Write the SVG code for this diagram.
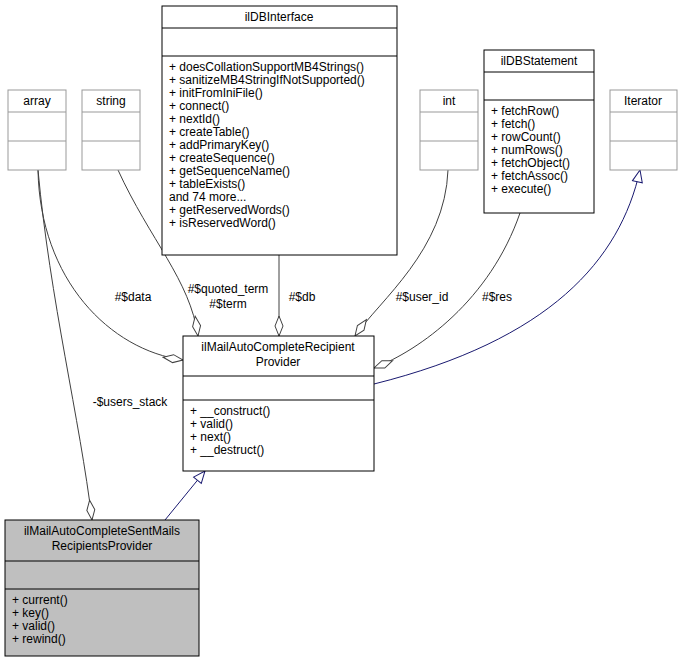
<svg xmlns="http://www.w3.org/2000/svg" width="687" height="663" viewBox="0 0 687 663">
<style>
text{font-family:"Liberation Sans",Arial,sans-serif;font-size:12px;fill:#000}
.c{text-anchor:middle}
.b{fill:#fff;stroke:#000;stroke-width:1}
.g{fill:#fff;stroke:#999;stroke-width:1}
.l{stroke:#000}
.lg{stroke:#999}
.e{fill:none;stroke:#404040;stroke-width:1}
.n{fill:none;stroke:#191970;stroke-width:1}
</style>
<defs>
<marker id="d" viewBox="0 0 22 10" refX="21" refY="5" markerWidth="22" markerHeight="10" orient="auto" markerUnits="userSpaceOnUse">
<path d="M1,5 L11,1 L21,5 L11,9 Z" fill="#fff" stroke="#404040"/>
</marker>
<marker id="t" viewBox="0 0 14 12" refX="13" refY="6" markerWidth="14" markerHeight="12" orient="auto" markerUnits="userSpaceOnUse">
<path d="M1,1 L13,6 L1,11 Z" fill="#fff" stroke="#191970"/>
</marker>
</defs>
<g id="connectors">
<path class="e" d="M38,170 C50,300 80,420 92,520" marker-end="url(#d)"/>
<path class="e" d="M38,170 C40,280 110,350 183,360" marker-end="url(#d)"/>
<path class="e" d="M118,170 C150,240 190,280 198,336" marker-end="url(#d)"/>
<path class="e" d="M279,255 L279,336" marker-end="url(#d)"/>
<path class="e" d="M448,170 C445,250 380,300 355,336" marker-end="url(#d)"/>
<path class="e" d="M520,213 C490,300 420,350 374,368" marker-end="url(#d)"/>
<path class="n" d="M374,384 C550,340 620,260 640,170" marker-end="url(#t)"/>
<path class="n" d="M165,520 L205,471" marker-end="url(#t)"/>
<text x="130" y="406" class="c">-$users_stack</text>
<text x="133" y="301" class="c">#$data</text>
<text x="228" y="293" class="c">#$quoted_term</text>
<text x="228" y="308" class="c">#$term</text>
<text x="302" y="301" class="c">#$db</text>
<text x="422" y="301" class="c">#$user_id</text>
<text x="497" y="301" class="c">#$res</text>
</g>
<g id="array"><rect class="g" x="8" y="90" width="58" height="80"/><path class="lg" d="M8,112H66M8,141H66"/><text x="37" y="105" class="c">array</text></g>
<g id="string"><rect class="g" x="82" y="90" width="58" height="80"/><path class="lg" d="M82,112H140M82,141H140"/><text x="111" y="105" class="c">string</text></g>
<g id="int"><rect class="g" x="420" y="90" width="58" height="80"/><path class="lg" d="M420,112H478M420,141H478"/><text x="449" y="105" class="c">int</text></g>
<g id="Iterator"><rect class="g" x="610" y="90" width="67" height="80"/><path class="lg" d="M610,112H677M610,141H677"/><text x="643" y="105" class="c">Iterator</text></g>
<g id="ilDBInterface"><rect class="b" x="162" y="6" width="235" height="249"/><path class="l" d="M162,28H397M162,56H397"/>
<text x="279" y="21" class="c">ilDBInterface</text>
<text x="169" y="71">+ doesCollationSupportMB4Strings()</text>
<text x="169" y="84">+ sanitizeMB4StringIfNotSupported()</text>
<text x="169" y="97">+ initFromIniFile()</text>
<text x="169" y="110">+ connect()</text>
<text x="169" y="123">+ nextId()</text>
<text x="169" y="136">+ createTable()</text>
<text x="169" y="149">+ addPrimaryKey()</text>
<text x="169" y="162">+ createSequence()</text>
<text x="169" y="175">+ getSequenceName()</text>
<text x="169" y="188">+ tableExists()</text>
<text x="169" y="201">and 74 more...</text>
<text x="169" y="214">+ getReservedWords()</text>
<text x="169" y="227">+ isReservedWord()</text>
</g>
<g id="ilDBStatement"><rect class="b" x="484" y="50" width="110" height="163"/><path class="l" d="M484,72H594M484,100H594"/>
<text x="539" y="65" class="c">ilDBStatement</text>
<text x="491" y="115">+ fetchRow()</text>
<text x="491" y="128">+ fetch()</text>
<text x="491" y="141">+ rowCount()</text>
<text x="491" y="154">+ numRows()</text>
<text x="491" y="167">+ fetchObject()</text>
<text x="491" y="180">+ fetchAssoc()</text>
<text x="491" y="193">+ execute()</text>
</g>
<g id="ilMailAutoCompleteRecipientProvider"><rect class="b" x="183" y="336" width="191" height="135"/><path class="l" d="M183,376H374M183,400H374"/>
<text x="278" y="351" class="c">ilMailAutoCompleteRecipient</text>
<text x="278" y="366" class="c">Provider</text>
<text x="190" y="415">+ __construct()</text>
<text x="190" y="428">+ valid()</text>
<text x="190" y="441">+ next()</text>
<text x="190" y="454">+ __destruct()</text>
</g>
<g id="ilMailAutoCompleteSentMailsRecipientsProvider"><rect x="5" y="520" width="194" height="136" fill="#bfbfbf" stroke="#000"/><path class="l" d="M5,561H199M5,589H199"/>
<text x="102" y="535" class="c">ilMailAutoCompleteSentMails</text>
<text x="102" y="550" class="c">RecipientsProvider</text>
<text x="12" y="604">+ current()</text>
<text x="12" y="617">+ key()</text>
<text x="12" y="630">+ valid()</text>
<text x="12" y="643">+ rewind()</text>
</g>
</svg>
